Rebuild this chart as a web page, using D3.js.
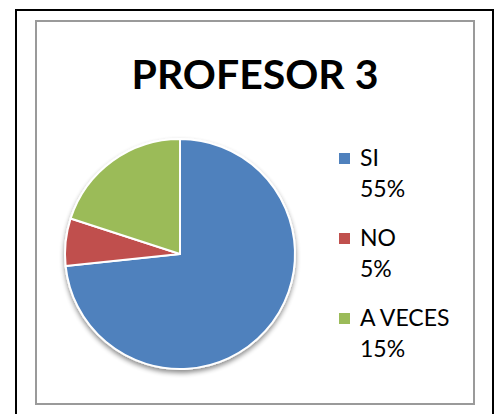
<!DOCTYPE html>
<html>
<head>
<meta charset="utf-8">
<script src="https://cdn.jsdelivr.net/npm/d3@7"></script>
<style>
  html, body { margin: 0; padding: 0; background: #fff; }
  svg { display: block; }
</style>
</head>
<body>
<svg id="chart" width="495" height="414"></svg>
<script>
const title = "PROFESOR 3";
const categories = ["SI", "NO", "A VECES"];
const values = [55, 5, 15];
const valueLabels = ["55%", "5%", "15%"];
const colors = ["#4F81BD", "#C0504D", "#9BBB59"];

const svg = d3.select("#chart");

// filter for pie shadow
const defs = svg.append("defs");
const f = defs.append("filter").attr("id", "shadow")
  .attr("x", "-20%").attr("y", "-20%").attr("width", "140%").attr("height", "140%");
f.append("feGaussianBlur").attr("in", "SourceAlpha").attr("stdDeviation", 2.5).attr("result", "b");
f.append("feOffset").attr("in", "b").attr("dx", 0).attr("dy", 3).attr("result", "o");
f.append("feComponentTransfer").attr("in", "o").attr("result", "s")
  .append("feFuncA").attr("type", "linear").attr("slope", 0.45);
const m = f.append("feMerge");
m.append("feMergeNode").attr("in", "s");
m.append("feMergeNode").attr("in", "SourceGraphic");

// outer black frame (bottom runs past the view)
svg.append("rect")
  .attr("x", 16).attr("y", 10).attr("width", 477).attr("height", 420)
  .attr("fill", "none").attr("stroke", "#000").attr("stroke-width", 2);

// inner chart-area frame
svg.append("rect")
  .attr("x", 36).attr("y", 21).attr("width", 438).attr("height", 383)
  .attr("fill", "#fff").attr("stroke", "#9a9a9a").attr("stroke-width", 2);

// title
svg.append("text")
  .attr("x", 255).attr("y", 89)
  .attr("text-anchor", "middle")
  .attr("font-family", "Lato, 'Open Sans', sans-serif")
  .attr("font-weight", "bold")
  .attr("font-size", 41)
  .attr("fill", "#000")
  .text(title);

// pie
const cx = 180, cy = 254, r = 115;
const pie = d3.pie().sort(null).value(d => d)(values);
const arc = d3.arc().innerRadius(0).outerRadius(r);
const g = svg.append("g").attr("transform", `translate(${cx},${cy})`);
const pg = g.append("g").attr("filter", "url(#shadow)");
pg.selectAll("path").data(pie).join("path")
  .attr("d", arc)
  .attr("fill", (d, i) => colors[i])
  .attr("stroke", "#fff")
  .attr("stroke-width", 2)
  .attr("stroke-linejoin", "round");

// legend
const legendY = d3.scaleBand().domain(categories).range([166, 406]).paddingInner(0).paddingOuter(0);
const lg = svg.append("g");
categories.forEach((c, i) => {
  const base = legendY(c);
  lg.append("rect")
    .attr("x", 339).attr("y", base - 13).attr("width", 11).attr("height", 11)
    .attr("fill", colors[i]);
  lg.append("text")
    .attr("x", 360).attr("y", base)
    .attr("font-family", "Lato, 'Open Sans', sans-serif")
    .attr("font-size", 23).attr("fill", "#000")
    .text(c);
  lg.append("text")
    .attr("x", 360).attr("y", base + 31)
    .attr("font-family", "Lato, 'Open Sans', sans-serif")
    .attr("font-size", 23).attr("fill", "#000")
    .text(valueLabels[i]);
});
</script>
</body>
</html>
